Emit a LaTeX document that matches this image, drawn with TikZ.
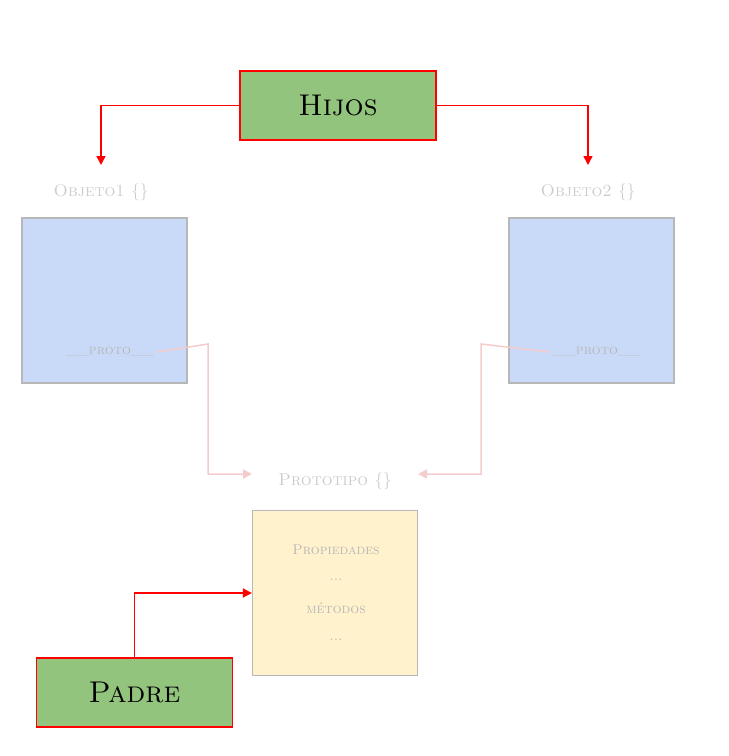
\documentclass[tikz,border=0pt]{standalone}
\usetikzlibrary{arrows.meta}
\definecolor{grn}{HTML}{93C47D}
\definecolor{blu}{HTML}{C9DAF8}
\definecolor{yel}{HTML}{FFF2CC}
\definecolor{gbord}{HTML}{B7B7B7}
\definecolor{pnk}{HTML}{F4CCCC}
\definecolor{ltxt}{HTML}{CCCCCC}
\begin{document}
\begin{tikzpicture}[x=1pt,y=-1pt,
  redbox/.style={draw=red,line width=1.5pt,fill=grn,minimum width=196pt,minimum height=69pt,font=\fontsize{30}{32}\selectfont\scshape},
  obj/.style={draw=gbord,line width=1.2pt,minimum width=165pt,minimum height=165pt},
  lbl/.style={text=ltxt,font=\fontsize{17}{19}\selectfont\scshape},
  sm/.style={text=gbord,font=\fontsize{14}{16}\selectfont\scshape},
  redarr/.style={draw=red,line width=1.5pt,-{Triangle[length=9pt,width=9pt]}},
  pkarr/.style={draw=pnk,line width=1.5pt,-{Triangle[length=9pt,width=9pt]}}]
\useasboundingbox (0,0) rectangle (729,756);
\node[redbox] (hijos) at (338,105.5) {Hijos};
\node[redbox] (padre) at (134.5,692.5) {Padre};
\node[obj,fill=blu] (o1) at (104.5,300.5) {};
\node[obj,fill=blu] (o2) at (591.5,300.5) {};
\node[obj,fill=yel] (pr) at (335,593) {};
\node[lbl] (l1) at (101,192) {Objeto1 \{\}};
\node[lbl] (l2) at (588,192) {Objeto2 \{\}};
\node[lbl] (lp) at (335,481) {Prototipo \{\}};
\node[sm] (p1) at (110,352) {\_\_proto\_\_};
\node[sm] (p2) at (597,352) {\_\_proto\_\_};
\node[sm] (t1) at (336,550) {Propiedades};
\node[sm] (t2) at (336,580) {...};
\node[sm] (t3) at (336,608) {métodos};
\node[sm] (t4) at (336,640) {...};
\coordinate (a1) at (101,165);
\coordinate (a2) at (588,165);
\coordinate (b1) at (252,474);
\coordinate (b2) at (418,474);
\draw[redarr] (hijos.west) -| (a1);
\draw[redarr] (hijos.east) -| (a2);
\draw[redarr] (padre.north) |- (pr.west);
\draw[pkarr] (p1.east) -- (208,344) |- (b1);
\draw[pkarr] (p2.west) -- (481,344) |- (b2);
\end{tikzpicture}
\end{document}
